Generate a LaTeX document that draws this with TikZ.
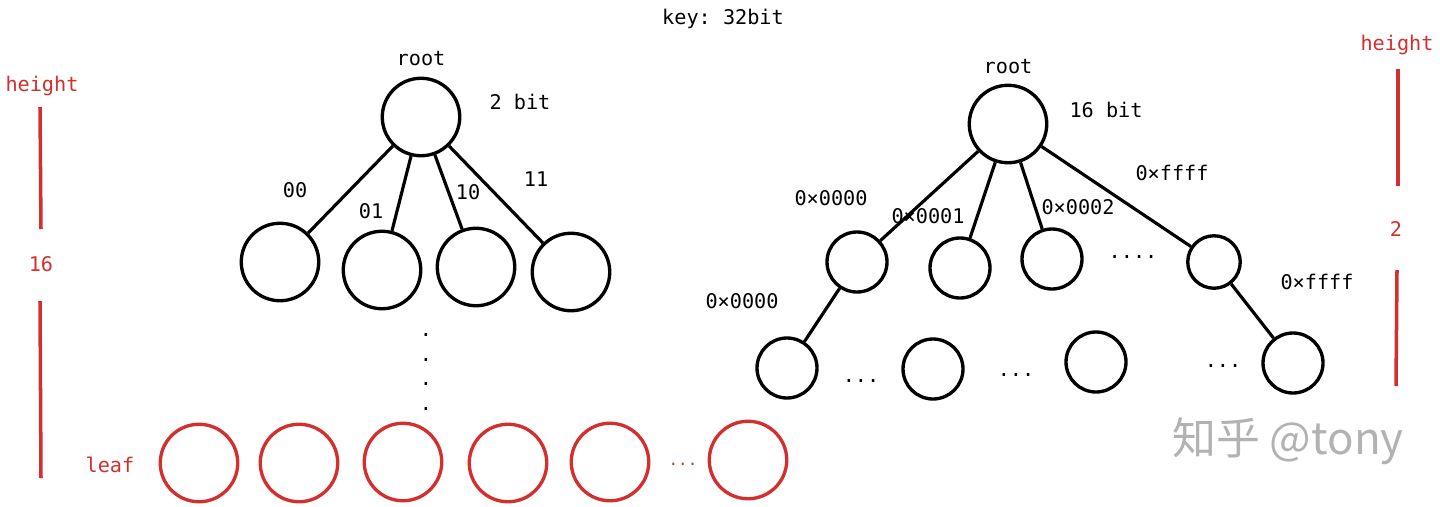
\documentclass[tikz,border=0pt]{standalone}
\usepackage{fontspec}
\setmonofont{DejaVu Sans Mono}
\newfontfamily\cjkfont{Noto Sans CJK SC}
\definecolor{sketchred}{RGB}{211,47,47}
\begin{document}
\begin{tikzpicture}[x=0.02cm, y=-0.02cm,
  every node/.style={font=\ttfamily\fontsize{11.5}{13}\selectfont},
  bigc/.style={circle, draw, line width=1.9pt, minimum size=1.55cm, inner sep=0pt},
  smallc/.style={circle, draw, line width=1.9pt, minimum size=1.2cm, inner sep=0pt},
  leafc/.style={bigc, draw=sketchred},
  link/.style={line width=1.8pt},
  bar/.style={sketchred, line width=2pt}]
\useasboundingbox (0,0) rectangle (1440,507);
\node (title) at (723,19) {key: 32bit};
% left tree
\node[bigc] (lroot) at (421,117) {};
\node (lrootlbl) at (421,59) {root};
\node (lbits) at (520,102) {2 bit};
\node[bigc] (l00) at (280,262) {};
\node[bigc] (l01) at (382,270) {};
\node[bigc] (l10) at (476,267) {};
\node[bigc] (l11) at (571,272) {};
\draw[link] (lroot) -- (l00);
\draw[link] (lroot) -- (l01);
\draw[link] (lroot) -- (l10);
\draw[link] (lroot) -- (l11);
\node (lab00) at (295,190) {00};
\node (lab01) at (371,211) {01};
\node (lab10) at (468,192) {10};
\node (lab11) at (536,179) {11};
\node[align=center, font=\ttfamily\fontsize{11.5}{14.2}\selectfont] (vdots) at (426,372) {.\\.\\.\\.};
% leaves
\node[sketchred] (leaflbl) at (110,465) {leaf};
\node[leafc] (leaf1) at (199,463) {};
\node[leafc] (leaf2) at (299,463) {};
\node[leafc] (leaf3) at (403,462) {};
\node[leafc] (leaf4) at (508,463) {};
\node[leafc] (leaf5) at (610,462) {};
\node[sketchred, font=\ttfamily\fontsize{9}{11}\selectfont] (leafdots) at (683,464) {...};
\node[leafc] (leaf6) at (748,460) {};
% left height
\node[sketchred] (lheight) at (42,86) {height};
\node[sketchred] (lnum) at (41,264) {16};
\coordinate (lbar1) at (40,107);
\coordinate (lbar2) at (41,229);
\coordinate (lbar3) at (40,301);
\coordinate (lbar4) at (41,478);
\draw[bar] (lbar1) -- (lbar2);
\draw[bar] (lbar3) -- (lbar4);
% right tree
\node[bigc] (rroot) at (1008,124) {};
\node (rrootlbl) at (1008,67) {root};
\node (rbits) at (1106,110) {16 bit};
\node[smallc] (ra) at (857,262) {};
\node[smallc] (rb) at (960,268) {};
\node[smallc] (rc) at (1052,259) {};
\node (rdots) at (1133,257) {....};
\node[smallc, minimum size=1.05cm] (rd) at (1214,262) {};
\draw[link] (rroot) -- (ra);
\draw[link] (rroot) -- (rb);
\draw[link] (rroot) -- (rc);
\draw[link] (rroot) -- (rd);
\node (laba) at (831,198) {0×0000};
\node (labb) at (928,216) {0×0001};
\node (labc) at (1078,207) {0×0002};
\node (labd) at (1172,173) {0×ffff};
\node[smallc] (g1) at (787,368) {};
\node (gdots1) at (861,381) {...};
\node[smallc] (g2) at (933,369) {};
\node (gdots2) at (1016,375) {...};
\node[smallc] (g3) at (1096,362) {};
\node (gdots3) at (1223,366) {...};
\node[smallc] (g4) at (1293,363) {};
\draw[link] (ra) -- (g1);
\draw[link] (rd) -- (g4);
\node (labg1) at (742,301) {0×0000};
\node (labg4) at (1317,282) {0×ffff};
% right height
\node[sketchred] (rheight) at (1397,45) {height};
\node[sketchred] (rnum) at (1396,229) {2};
\coordinate (rbar1) at (1398,69);
\coordinate (rbar2) at (1398,186);
\coordinate (rbar3) at (1397,270);
\coordinate (rbar4) at (1396,386);
\draw[bar] (rbar1) -- (rbar2);
\draw[bar] (rbar3) -- (rbar4);
\node[text=black!30, font=\cjkfont\fontsize{25}{30}\selectfont] (mark) at (1288,441) {知乎 @tony};
\end{tikzpicture}
\end{document}
